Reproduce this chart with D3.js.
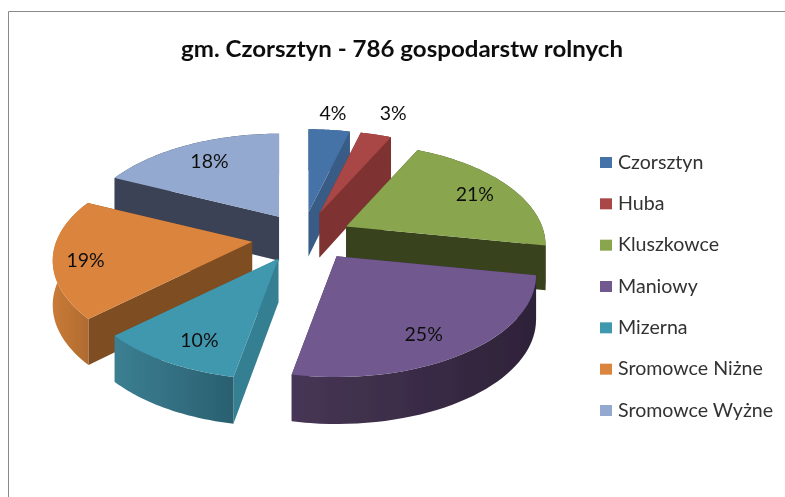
<!DOCTYPE html>
<html><head><meta charset="utf-8">
<script src="https://cdn.jsdelivr.net/npm/d3@7/dist/d3.min.js"></script>
<style>html,body{margin:0;padding:0;background:#fff}svg{display:block}</style>
</head><body><svg id="c" width="785" height="497"></svg>
<script>
// Data
const categories = ["Czorsztyn","Huba","Kluszkowce","Maniowy","Mizerna","Sromowce Niżne","Sromowce Wyżne"];
const values = [4,3,21,25,10,19,18];
const chartTitle = "gm. Czorsztyn - 786 gospodarstw rolnych";

// Styles and projection settings
const topColors  = ["#4573A7","#A84644","#89A54E","#71588F","#4198AF","#DB843D","#93A9CF"];
const faceColors = ["#375B85","#7E3130","#39421E","#3E2F52","#357F92","#7F4D22","#3B4356"];
const rimFrom    = ["#375B85","#7E3130","#39421E","#473655","#3B7F92","#C97B38","#3B4356"];
const rimTo      = ["#375B85","#7E3130","#39421E","#2E2239","#2A6070","#B06B2F","#3B4356"];
const explode    = [.31,.31,.28,.22,.21,.24,.28];
const apexShift  = [[0,0],[0,0],[-1,0],[6,-3],[0,-1],[-2,0],[2.5,-1]];
const labelNudge = [[10,-41],[34,-44],[16,-3],[-4,12],[0,10],[-27,8],[-6,-5]];
const drawOrder  = [0,1,6,2,5,4,3];
const cx=302, cy=238, Rx=196, Ry=98.5, persp=.185;

const svg = d3.select("#c");
const defs = svg.append("defs");
defs.append("filter").attr("id","soft").attr("x","-5%").attr("y","-5%").attr("width","110%").attr("height","110%")
  .append("feGaussianBlur").attr("stdDeviation",.45);
const root = svg.append("g").attr("filter","url(#soft)");
svg.insert("path","g").attr("d","M8.5,497V11.5H785").attr("fill","none").attr("stroke","#8a8a8a").attr("stroke-width",1);
root.append("text").attr("x",402).attr("y",57).attr("text-anchor","middle")
  .attr("font-family","Lato").attr("font-weight",700).attr("font-size",22).attr("fill","#111")
  .attr("textLength",442).attr("lengthAdjust","spacingAndGlyphs").text(chartTitle);

const arcs = d3.pie().sort(null)(values);
const project = (a,r) => {
  const u=Math.sin(a), v=Math.cos(a), k=1/(1+persp*v);
  return [Rx*r*u*k, -Ry*r*v*k];
};
const depth = a => 44-3*Math.cos(a);
const line = d3.line();

const slices = arcs.map((d,i)=>{
  const mid=(d.startAngle+d.endAngle)/2, e=project(mid,explode[i]);
  const apex=[cx+e[0]+apexShift[i][0],cy+e[1]+apexShift[i][1]];
  const rim=d3.range(0,41).map(t=>{
    const a=d.startAngle+(d.endAngle-d.startAngle)*t/40, p=project(a,1);
    return {a,x:apex[0]+p[0],y:apex[1]+p[1]};
  });
  return {i,d,mid,apex,rim};
});

drawOrder.forEach(i=>{
  const s=slices[i], g=root.append("g");
  const ad=depth(Math.PI/2);
  const face=r=>[s.apex,[r.x,r.y],[r.x,r.y+depth(r.a)],[s.apex[0],s.apex[1]+ad]];
  const rf=s.rim[0], rl=s.rim[40];
  const rimPoly=s.rim.map(r=>[r.x,r.y]).concat(s.rim.slice().reverse().map(r=>[r.x,r.y+depth(r.a)]));
  const id="rim"+i;
  const xs=d3.extent(s.rim,r=>r.x);
  const gr=defs.append("linearGradient").attr("id",id).attr("gradientUnits","userSpaceOnUse")
    .attr("x1",xs[0]).attr("x2",xs[1]).attr("y1",0).attr("y2",0);
  gr.append("stop").attr("offset",0).attr("stop-color",rimFrom[i]);
  gr.append("stop").attr("offset",1).attr("stop-color",rimTo[i]);
  const walls=[
    {pts:face(rf),fill:faceColors[i]},
    {pts:face(rl),fill:faceColors[i]},
    {pts:rimPoly,fill:`url(#${id})`}
  ];
  walls.forEach(w=>w.my=d3.mean(w.pts,p=>p[1]));
  walls.sort((a,b)=>a.my-b.my).forEach(w=>{
    g.append("path").attr("d",line(w.pts)+"Z").attr("fill",w.fill);
  });
  g.append("path").attr("d",line([s.apex].concat(s.rim.map(r=>[r.x,r.y])))+"Z").attr("fill",topColors[i]);
});

slices.forEach(s=>{
  const p=project(s.mid,.7), n=labelNudge[s.i];
  root.append("text").attr("x",s.apex[0]+p[0]+n[0]).attr("y",s.apex[1]+p[1]+n[1]+6)
    .attr("text-anchor","middle").attr("font-family","Lato").attr("font-size",19.5).attr("fill","#111")
    .text(d3.format(".0f")(s.d.value)+"%");
});

const rowY = d3.scalePoint().domain(categories).range([162,410]);
const legend = root.append("g").selectAll("g").data(categories).join("g")
  .attr("transform",d=>`translate(600,${rowY(d)})`);
legend.append("rect").attr("x",0).attr("y",-5).attr("width",12).attr("height",11)
  .attr("fill",(d,i)=>topColors[i]);
legend.append("text").attr("x",18).attr("y",6.5).attr("font-family","Lato").attr("font-size",19.6)
  .attr("fill","#333").text(d=>d);
</script></body></html>
